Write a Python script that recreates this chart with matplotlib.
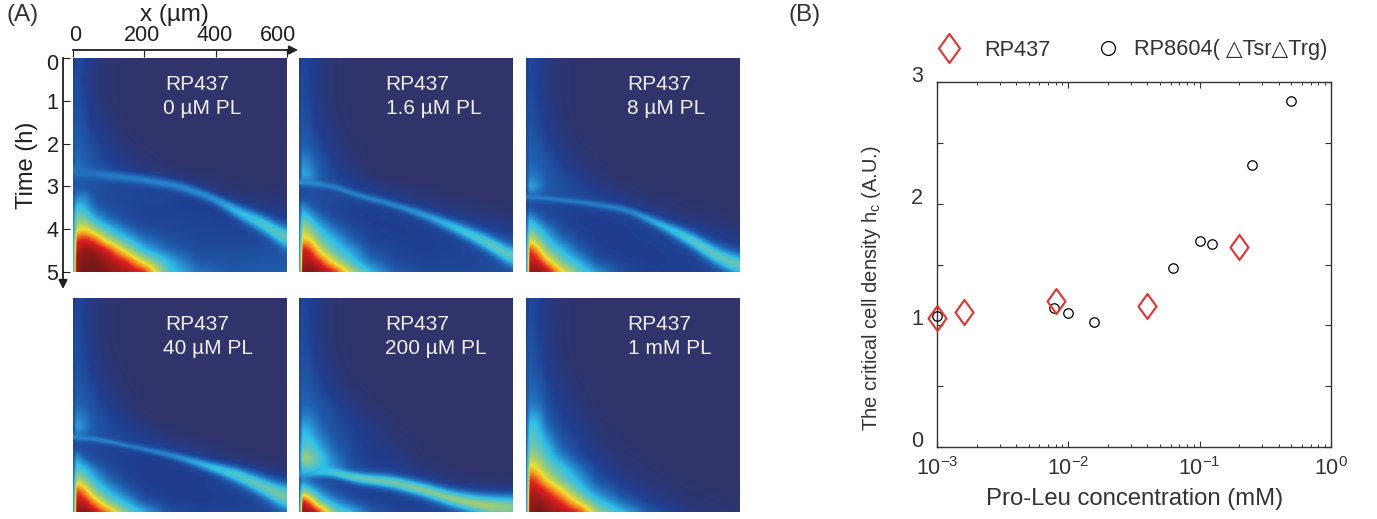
#!/usr/bin/env python3
# Chemotaxis kymographs (A) and critical density vs Pro-Leu concentration (B)
import numpy as np
import matplotlib
matplotlib.use('Agg')
import matplotlib.pyplot as plt
from matplotlib.colors import LinearSegmentedColormap
from matplotlib.lines import Line2D
from matplotlib.path import Path
from matplotlib.ticker import LogLocator, NullFormatter
from matplotlib.transforms import ScaledTranslation

plt.rcParams['font.family'] = ['Liberation Sans', 'DejaVu Sans']
plt.rcParams['mathtext.default'] = 'regular'
plt.rcParams['mathtext.fontset'] = 'custom'
plt.rcParams['mathtext.rm'] = 'Liberation Sans'

W, H = 1377, 519
DARK = '#231f20'
GREY = '#333333'

# --- panel A: density (0 navy ... 100 maroon)
GRID_X = [0, 10, 30, 60, 100, 150, 200, 270, 350, 450, 600]
GRID_T = [0, .5, 1, 1.5, 2, 2.5, 2.75, 3, 3.25, 3.5, 3.75, 4, 4.25, 4.5, 4.75, 5]

D_0 = [
    [9, 14, 13, 6, 2, 1, 0, 0, 0, 0, 0],
    [12, 15, 11, 5, 2, 1, 0, 0, 0, 0, 0],
    [14, 16, 13, 6, 2, 1, 0, 0, 0, 0, 0],
    [15, 18, 15, 9, 4, 1, 0, 0, 0, 0, 0],
    [16, 20, 18, 13, 8, 3, 1, 0, 0, 0, 0],
    [18, 24, 21, 17, 13, 8, 4, 1, 0, 0, 0],
    [18, 22, 21, 18, 15, 12, 9, 5, 2, 1, 0],
    [14, 17, 16, 15, 14, 13, 12, 9, 6, 2, 1],
    [20, 26, 30, 16, 13, 13, 13, 12, 9, 5, 2],
    [24, 42, 38, 22, 15, 13, 12, 12, 11, 9, 5],
    [28, 52, 50, 36, 22, 14, 12, 12, 12, 11, 9],
    [32, 62, 68, 55, 40, 24, 15, 13, 12, 12, 11],
    [36, 82, 86, 80, 58, 40, 24, 15, 13, 13, 13],
    [38, 90, 96, 94, 85, 60, 38, 22, 14, 14, 16],
    [40, 94, 98, 99, 93, 84, 60, 36, 18, 16, 18],
    [42, 95, 100, 100, 97, 92, 86, 42, 25, 18, 20],
]
D_1_6 = [
    [9, 13, 12, 6, 2, 1, 0, 0, 0, 0, 0],
    [11, 14, 11, 5, 2, 1, 0, 0, 0, 0, 0],
    [12, 15, 12, 6, 2, 1, 0, 0, 0, 0, 0],
    [13, 17, 14, 8, 3, 1, 0, 0, 0, 0, 0],
    [14, 20, 18, 12, 6, 2, 1, 0, 0, 0, 0],
    [16, 32, 26, 18, 10, 4, 1, 0, 0, 0, 0],
    [17, 36, 33, 19, 13, 7, 2, 0, 0, 0, 0],
    [13, 17, 17, 16, 15, 12, 8, 3, 1, 0, 0],
    [12, 14, 14, 14, 14, 14, 14, 9, 4, 1, 0],
    [20, 32, 22, 14, 12, 11, 11, 12, 10, 4, 1],
    [24, 46, 38, 24, 14, 11, 10, 11, 12, 10, 3],
    [28, 60, 52, 38, 24, 14, 11, 10, 11, 13, 9],
    [30, 70, 66, 48, 36, 20, 12, 11, 11, 12, 14],
    [32, 88, 84, 62, 44, 32, 16, 12, 11, 12, 14],
    [34, 92, 92, 82, 60, 40, 24, 13, 12, 12, 14],
    [36, 96, 100, 94, 85, 58, 38, 20, 13, 13, 15],
]
D_8 = [
    [9, 13, 12, 6, 2, 1, 0, 0, 0, 0, 0],
    [11, 14, 11, 5, 2, 1, 0, 0, 0, 0, 0],
    [12, 15, 12, 6, 2, 1, 0, 0, 0, 0, 0],
    [13, 16, 14, 8, 3, 1, 0, 0, 0, 0, 0],
    [14, 19, 17, 12, 6, 2, 1, 0, 0, 0, 0],
    [15, 22, 21, 17, 11, 5, 2, 0, 0, 0, 0],
    [16, 26, 24, 18, 14, 9, 4, 1, 0, 0, 0],
    [16, 37, 30, 19, 15, 12, 7, 3, 1, 0, 0],
    [13, 20, 18, 16, 15, 14, 12, 7, 2, 1, 0],
    [12, 14, 13, 13, 12, 12, 13, 12, 6, 2, 0],
    [20, 36, 24, 14, 12, 10, 10, 12, 12, 5, 1],
    [24, 48, 42, 28, 14, 11, 10, 10, 12, 11, 3],
    [28, 64, 54, 40, 24, 13, 10, 10, 11, 13, 8],
    [30, 84, 74, 50, 38, 20, 11, 10, 10, 12, 12],
    [32, 90, 88, 70, 48, 34, 16, 11, 10, 11, 13],
    [34, 94, 98, 90, 68, 46, 32, 14, 11, 11, 14],
]
D_40 = [
    [9, 13, 12, 6, 2, 1, 0, 0, 0, 0, 0],
    [11, 14, 11, 5, 2, 1, 0, 0, 0, 0, 0],
    [12, 15, 12, 6, 2, 1, 0, 0, 0, 0, 0],
    [13, 16, 13, 7, 3, 1, 0, 0, 0, 0, 0],
    [14, 18, 16, 11, 5, 2, 1, 0, 0, 0, 0],
    [15, 21, 20, 15, 9, 4, 1, 0, 0, 0, 0],
    [16, 28, 24, 17, 12, 7, 2, 0, 0, 0, 0],
    [16, 35, 28, 18, 14, 10, 5, 1, 0, 0, 0],
    [13, 24, 20, 16, 14, 13, 10, 4, 1, 0, 0],
    [12, 13, 13, 13, 12, 12, 12, 11, 5, 1, 0],
    [18, 34, 20, 13, 12, 11, 10, 11, 10, 3, 0],
    [22, 46, 40, 26, 14, 11, 10, 10, 11, 10, 2],
    [26, 60, 52, 38, 22, 12, 10, 10, 10, 12, 7],
    [30, 82, 74, 50, 36, 20, 11, 10, 10, 12, 12],
    [32, 90, 88, 72, 48, 34, 16, 11, 10, 11, 13],
    [34, 94, 100, 90, 76, 50, 36, 15, 12, 12, 14],
]
D_200 = [
    [9, 13, 12, 6, 2, 1, 0, 0, 0, 0, 0],
    [11, 14, 11, 5, 2, 1, 0, 0, 0, 0, 0],
    [12, 15, 12, 6, 2, 1, 0, 0, 0, 0, 0],
    [13, 16, 14, 8, 3, 1, 0, 0, 0, 0, 0],
    [14, 19, 17, 12, 6, 2, 1, 0, 0, 0, 0],
    [15, 22, 21, 17, 12, 6, 2, 0, 0, 0, 0],
    [16, 26, 26, 19, 14, 9, 4, 1, 0, 0, 0],
    [18, 36, 32, 22, 15, 11, 7, 2, 0, 0, 0],
    [20, 40, 38, 27, 17, 12, 8, 3, 1, 0, 0],
    [22, 46, 46, 34, 20, 13, 9, 5, 1, 0, 0],
    [24, 58, 54, 42, 26, 14, 10, 7, 2, 0, 0],
    [22, 44, 44, 40, 30, 16, 12, 10, 4, 1, 0],
    [20, 26, 18, 14, 13, 12, 12, 12, 10, 3, 1],
    [24, 52, 42, 26, 14, 12, 11, 11, 12, 11, 5],
    [28, 88, 74, 46, 30, 16, 11, 11, 11, 13, 14],
    [32, 98, 96, 82, 50, 38, 20, 12, 12, 13, 16],
]
D_1000 = [
    [10, 14, 13, 6, 2, 1, 0, 0, 0, 0, 0],
    [12, 15, 12, 6, 2, 1, 0, 0, 0, 0, 0],
    [13, 17, 13, 7, 2, 1, 0, 0, 0, 0, 0],
    [14, 18, 15, 9, 3, 1, 0, 0, 0, 0, 0],
    [15, 21, 19, 12, 6, 2, 1, 0, 0, 0, 0],
    [17, 26, 25, 16, 9, 4, 1, 0, 0, 0, 0],
    [18, 33, 34, 18, 11, 6, 2, 0, 0, 0, 0],
    [20, 42, 40, 22, 13, 8, 3, 1, 0, 0, 0],
    [21, 46, 44, 30, 16, 10, 4, 1, 0, 0, 0],
    [22, 50, 48, 38, 20, 12, 6, 2, 0, 0, 0],
    [24, 60, 56, 44, 30, 15, 8, 3, 1, 0, 0],
    [26, 72, 66, 52, 42, 26, 12, 5, 2, 0, 0],
    [28, 84, 80, 64, 48, 34, 17, 8, 3, 1, 0],
    [30, 90, 90, 82, 66, 44, 26, 13, 6, 2, 1],
    [32, 94, 96, 92, 82, 60, 40, 22, 9, 3, 1],
    [34, 96, 100, 96, 92, 84, 56, 38, 18, 6, 2],
]

# the travelling band: position, time, level, thickness in pixels
BAND_0_X = [0, 50, 100, 200, 300, 400, 450, 500, 550, 600]
BAND_0_T = [2.62, 2.7, 2.75, 2.85, 3.0, 3.3, 3.55, 3.75, 3.95, 4.25]
BAND_0_L = [24, 24, 26, 27, 28, 30, 36, 40, 44, 46]
BAND_0_W = [10, 10, 10, 11, 12, 12, 15, 18, 20, 24]
BAND_1_6_X = [7, 82, 176, 269, 363, 456, 550, 600]
BAND_1_6_T = [2.9, 2.97, 3.24, 3.44, 3.71, 4.03, 4.41, 4.69]
BAND_1_6_L = [30, 27, 27, 28, 32, 40, 46, 46]
BAND_1_6_W = [6, 7, 7, 8, 11, 15, 19, 21]
BAND_8_X = [7, 100, 193, 287, 380, 427, 474, 521, 600]
BAND_8_T = [3.24, 3.32, 3.42, 3.56, 3.91, 4.1, 4.3, 4.57, 4.88]
BAND_8_L = [26, 26, 26, 28, 36, 40, 44, 46, 47]
BAND_8_W = [6, 6, 7, 8, 12, 15, 18, 20, 23]
BAND_40_X = [5, 84, 178, 272, 366, 459, 553, 600]
BAND_40_T = [3.24, 3.33, 3.5, 3.67, 3.9, 4.14, 4.49, 4.69]
BAND_40_L = [28, 27, 26, 28, 36, 44, 48, 50]
BAND_40_W = [6, 6, 6, 8, 11, 17, 23, 28]
BAND_200_X = [12, 86, 162, 255, 349, 442, 536, 600]
BAND_200_T = [4.09, 4.06, 4.22, 4.30, 4.49, 4.73, 4.88, 4.92]
BAND_200_L = [32, 42, 47, 49, 51, 53, 56, 52]
BAND_200_W = [7, 9, 12, 14, 16, 18, 22, 26]

STRAIN = 'RP437'
DOSES = ['0 µM PL', '1.6 µM PL', '8 µM PL', '40 µM PL', '200 µM PL', '1 mM PL']
FIELDS = [D_0, D_1_6, D_8, D_40, D_200, D_1000]
BANDS = [
    (BAND_0_X, BAND_0_T, BAND_0_L, BAND_0_W),
    (BAND_1_6_X, BAND_1_6_T, BAND_1_6_L, BAND_1_6_W),
    (BAND_8_X, BAND_8_T, BAND_8_L, BAND_8_W),
    (BAND_40_X, BAND_40_T, BAND_40_L, BAND_40_W),
    (BAND_200_X, BAND_200_T, BAND_200_L, BAND_200_W),
    None,
]
X_TICKS = [0, 200, 400, 600]
T_TICKS = [0, 1, 2, 3, 4, 5]

# --- panel B
WT_CONC = [0.001, 0.0016, 0.008, 0.04, 0.2]
WT_HC = [1.063, 1.113, 1.203, 1.159, 1.641]
MUT_CONC = [0.001, 0.0078, 0.01, 0.0156, 0.0625, 0.1, 0.125, 0.25, 0.5]
MUT_HC = [1.08, 1.142, 1.10, 1.03, 1.474, 1.696, 1.666, 2.315, 2.844]

jet = LinearSegmentedColormap.from_list('kymo', [
    (0.00, '#31346a'), (0.10, '#1f3d8f'), (0.20, '#1f5fb0'), (0.30, '#2a8fd0'),
    (0.38, '#2fc0e8'), (0.48, '#6cc5b0'), (0.58, '#b0d060'), (0.66, '#f0e030'),
    (0.75, '#f59020'), (0.85, '#e0201f'), (1.00, '#701818'),
])
DIAMOND = Path([(0, -1), (0.72, 0), (0, 1), (-0.72, 0), (0, -1)], closed=True)

RX = np.linspace(0, 600, 214)
RT = np.linspace(0, 5, 214)


def px_axes(fig, left, top, right, bottom):
    return fig.add_axes([left / W, 1 - bottom / H, (right - left) / W, (bottom - top) / H])


def px_shift(fig, dx, dy):
    return ScaledTranslation(dx / 100, dy / 100, fig.dpi_scale_trans)


def box(a, n):
    # running mean with the ends held, to take the facets out of the coarse grid
    return np.convolve(np.pad(a, n // 2, mode='edge'), np.ones(n) / n, mode='valid')


def raster(field, band):
    field = np.array(field, float)
    by_col = np.array([np.interp(RT, GRID_T, col) for col in field.T]).T
    img = np.array([np.interp(RX, GRID_X, row) for row in by_col])
    img = np.apply_along_axis(box, 0, img, 9)
    img[:, 4:] = np.apply_along_axis(box, 1, img[:, 4:], 9)
    if band is not None:
        xs, ts, levels, widths = band
        crest = box(np.interp(RX, xs, ts), 25)
        level = np.interp(RX, xs, levels)
        sigma = box(np.interp(RX, xs, widths), 25) / 2 * 5 / 214
        prof = np.exp(-((RT[:, None] - crest[None, :]) / sigma[None, :]) ** 2)
        img = np.maximum(img, img + (level[None, :] - img) * prof)
    return img


fig = plt.figure(figsize=(W / 100, H / 100), dpi=100)

cols = [(73, 287), (299, 513), (526, 740)]
rows = [(58, 272), (298, 512)]
text_left = [(92, 90), (86, 87), (101, 101), (92, 90), (86, 86), (101, 102)]
axes = []
for i in range(6):
    (l, r), (t, b) = cols[i % 3], rows[i // 3]
    ax = px_axes(fig, l, t, r, b)
    ax.imshow(raster(FIELDS[i], BANDS[i]), cmap=jet, vmin=0, vmax=100, extent=(0, 600, 5, 0),
              aspect='auto', interpolation='bilinear', zorder=1)
    ax.set_xlim(0, 600)
    ax.set_ylim(5, 0)
    ax.set_xticks([])
    ax.set_yticks([])
    for s in ax.spines.values():
        s.set_visible(False)
    ax.text(text_left[i][0] / 214, 1 - 26 / 214, STRAIN, transform=ax.transAxes, color='#f0f0f6',
            fontsize=15, va='center', ha='left', zorder=5)
    ax.text(text_left[i][1] / 214, 1 - 50 / 214, DOSES[i], transform=ax.transAxes, color='#f0f0f6',
            fontsize=15, va='center', ha='left', zorder=5)
    axes.append(ax)

# axes of the first panel sit outside the image, with arrows
ax = axes[0]
ax.spines['top'].set_visible(True)
ax.spines['left'].set_visible(True)
ax.spines['top'].set_position(('outward', 5.8))
ax.spines['left'].set_position(('outward', 7.5))
ax.spines['top'].set_linewidth(1.3)
ax.spines['left'].set_linewidth(1.3)
ax.spines['top'].set_color(DARK)
ax.spines['left'].set_color(DARK)
ax.xaxis.tick_top()
ax.set_xticks(X_TICKS)
ax.set_yticks(T_TICKS)
ax.tick_params(axis='both', direction='in', length=5, width=0.8, color=DARK, labelcolor=DARK,
               labelsize=15.5, pad=-1)
ax.tick_params(axis='y', pad=3)
for lab, dx in zip(ax.get_xticklabels(), [2, -2, -1, -9]):
    lab.set_transform(lab.get_transform() + px_shift(fig, dx, 5))
ax.get_yticklabels()[0].set_transform(ax.get_yticklabels()[0].get_transform() + px_shift(fig, 0, -4))
ax.annotate('', xy=(298, H - 50), xytext=(287, H - 50), xycoords='figure pixels',
            textcoords='figure pixels',
            arrowprops=dict(arrowstyle='-|>', color=DARK, lw=1.3, mutation_scale=13,
                            shrinkA=0, shrinkB=0))
ax.annotate('', xy=(63, H - 289), xytext=(63, H - 272), xycoords='figure pixels',
            textcoords='figure pixels',
            arrowprops=dict(arrowstyle='-|>', color=DARK, lw=1.3, mutation_scale=13,
                            shrinkA=0, shrinkB=0))
fig.text(174 / W, 1 - 15 / H, 'x (µm)', color=DARK, fontsize=17.5, ha='center', va='center')
fig.text(27 / W, 1 - 165 / H, 'Time (h)', color=DARK, fontsize=17, rotation=90, ha='center', va='center')
fig.text(7 / W, 1 - 15 / H, '(A)', color=GREY, fontsize=17.5, ha='left', va='center')
fig.text(788 / W, 1 - 15 / H, '(B)', color=GREY, fontsize=17.5, ha='left', va='center')

# panel B
bx = px_axes(fig, 937, 82, 1331, 447)
bx.set_xscale('log')
bx.set_xlim(1e-3, 1)
bx.set_ylim(0, 3)
bx.plot(MUT_CONC, MUT_HC, ls='none', marker='o', ms=6.8, mfc='none', mec='black', mew=0.9,
        clip_on=False, zorder=4)
bx.plot(WT_CONC, WT_HC, ls='none', marker=DIAMOND, ms=18, mfc='none', mec='#e8302e', mew=1.5,
        clip_on=False, zorder=5)
bx.set_yticks([0, 1, 2, 3])
bx.set_yticks([0.5, 1.5, 2.5], minor=True)
bx.xaxis.set_major_locator(LogLocator(base=10, numticks=5))
bx.xaxis.set_minor_locator(LogLocator(base=10, subs=np.arange(2, 10), numticks=5))
bx.xaxis.set_minor_formatter(NullFormatter())
bx.tick_params(which='both', direction='in', top=True, right=True, color=GREY, labelcolor=GREY,
               labelsize=15.5)
bx.tick_params(axis='both', which='major', length=4.5, width=0.8)
bx.tick_params(axis='y', which='minor', length=4.5, width=0.8)
bx.tick_params(axis='x', which='minor', length=2.5, width=0.7)
bx.tick_params(axis='x', which='major', pad=7)
bx.tick_params(axis='y', which='major', pad=10)
for lab in bx.get_yticklabels():
    lab.set_transform(lab.get_transform() + px_shift(fig, 0, 8))
for s in bx.spines.values():
    s.set_color(GREY)
    s.set_linewidth(1.0)
fig.text(1135 / W, 1 - 499 / H, 'Pro-Leu concentration (mM)', color=GREY, fontsize=17.2,
         ha='center', va='center')
fig.text(872 / W, 1 - 288 / H, 'The critical cell density h$_{c}$ (A.U.)', color=GREY, fontsize=14.5,
         rotation=90, ha='center', va='center')

wt_handle = Line2D([], [], ls='none', marker=DIAMOND, ms=21, mfc='none', mec='#e8302e', mew=1.5)
mut_handle = Line2D([], [], ls='none', marker='o', ms=10, mfc='none', mec='black', mew=0.9)
leg_kw = dict(frameon=False, loc='center left', fontsize=15.7, labelcolor=GREY, borderpad=0,
              borderaxespad=0, handlelength=1.2)
fig.legend([wt_handle], [STRAIN], bbox_to_anchor=(936 / W, 1 - 50 / H), handletextpad=1.0, **leg_kw)
fig.legend([mut_handle], ['RP8604( △Tsr△Trg)'], bbox_to_anchor=(1095 / W, 1 - 50 / H),
           handletextpad=0.57, **leg_kw)

fig.savefig('out.png', dpi=100)
